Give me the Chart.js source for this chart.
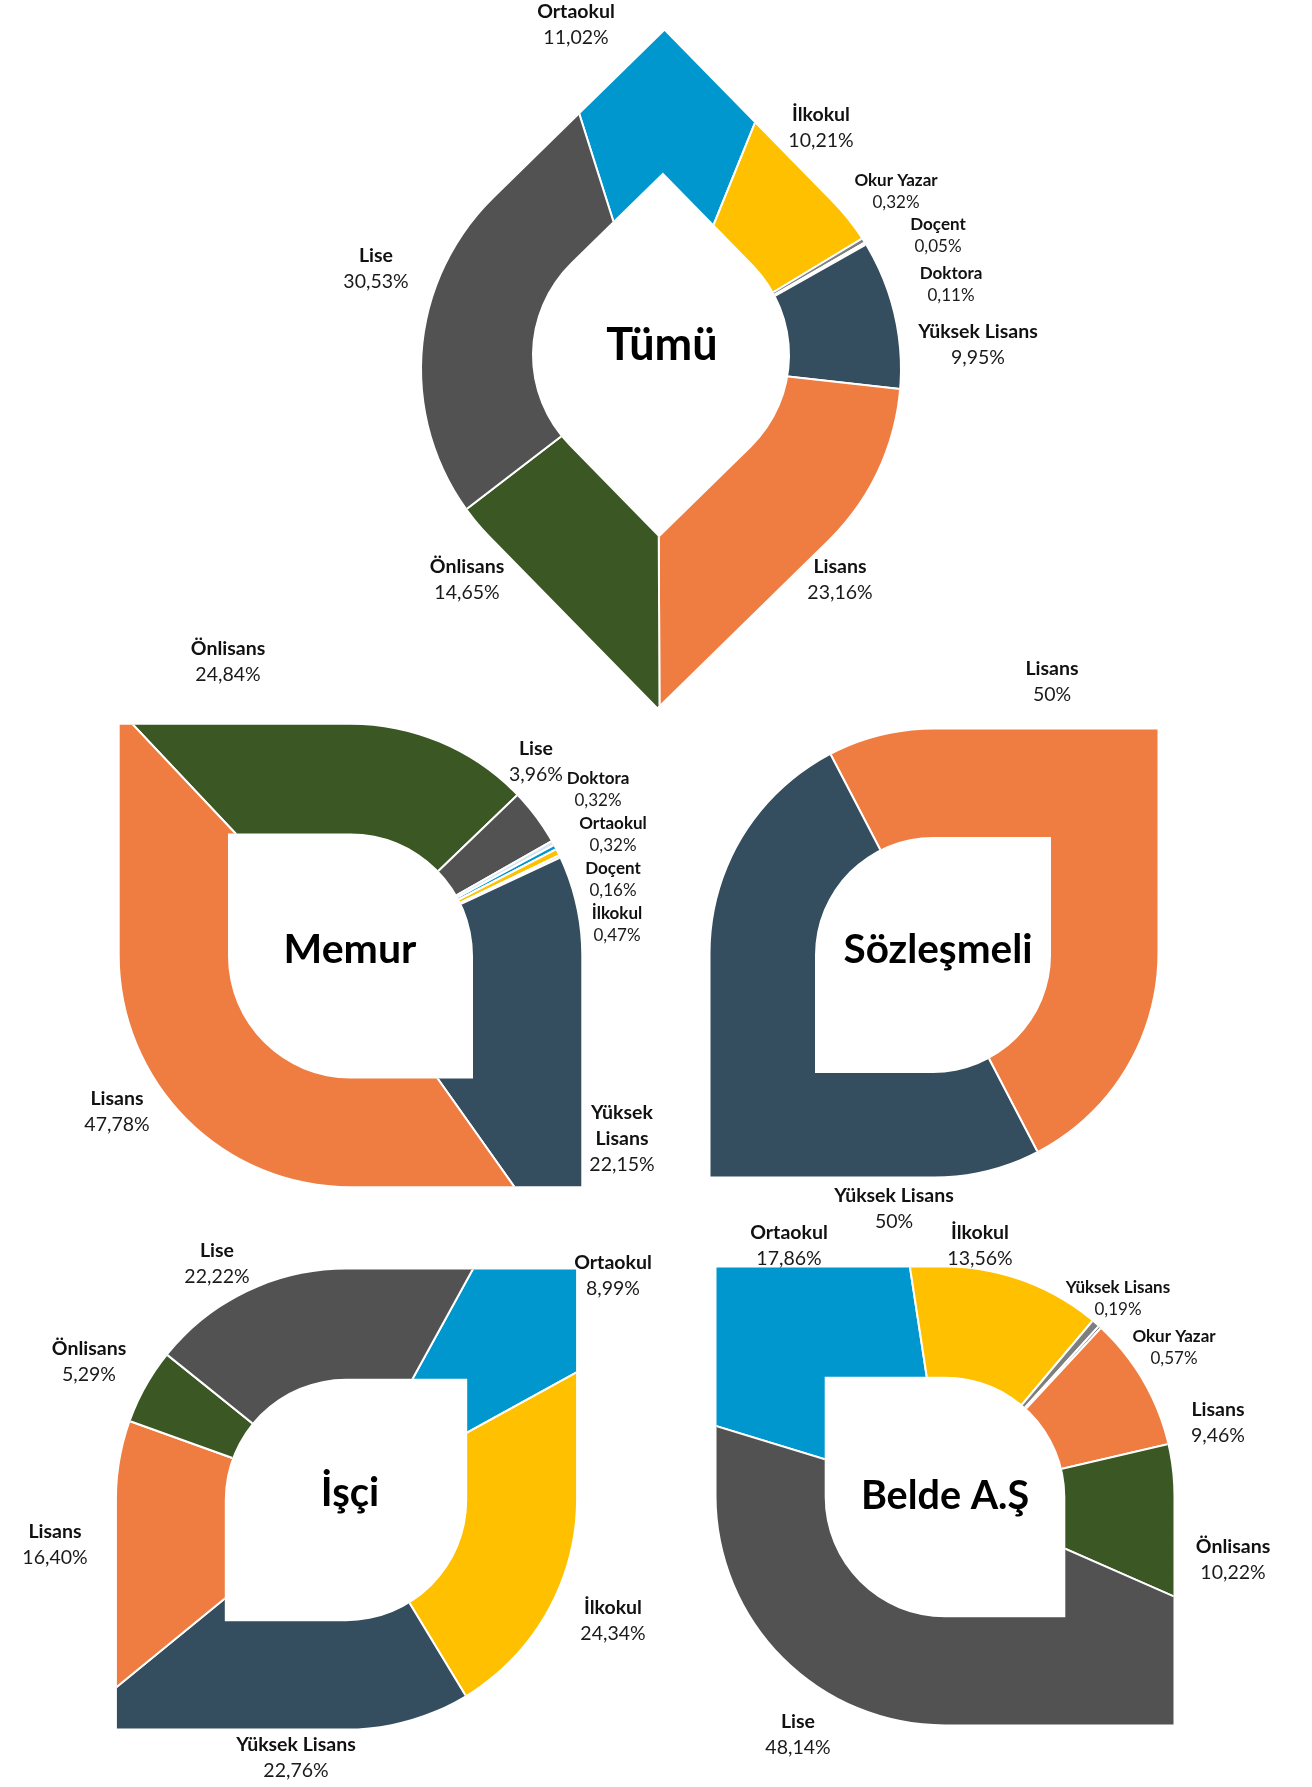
<!DOCTYPE html>
<html lang="tr">
<head>
<meta charset="utf-8">
<title>Eğitim Durumu</title>
<script src="https://cdn.jsdelivr.net/npm/chart.js@4.4.1/dist/chart.umd.min.js"></script>
<style>
    html, body { margin: 0; padding: 0; background: #fff; overflow: hidden; }
    #page { position: relative; width: 1312px; height: 1787px; overflow: hidden; }
    #page canvas { position: absolute; left: 0; top: 0; width: 1312px; height: 2000px; }
</style>
</head>
<body>
<div id="page">
    <canvas id="chart-tumu" width="1312" height="2000"></canvas>
    <canvas id="chart-memur" width="1312" height="2000"></canvas>
    <canvas id="chart-sozlesmeli" width="1312" height="2000"></canvas>
    <canvas id="chart-isci" width="1312" height="2000"></canvas>
    <canvas id="chart-belde" width="1312" height="2000"></canvas>
</div>
<script>
// Data (percent shares per education level)
const tumuCategories = ['Ortaokul', 'İlkokul', 'Okur Yazar', 'Doçent', 'Doktora', 'Yüksek Lisans', 'Lisans', 'Önlisans', 'Lise'];
const tumuValues = [11.02, 10.21, 0.32, 0.05, 0.11, 9.95, 23.16, 14.65, 30.53];

const memurCategories = ['Önlisans', 'Lise', 'Doktora', 'Ortaokul', 'İlkokul', 'Doçent', 'Yüksek Lisans', 'Lisans'];
const memurValues = [24.84, 3.96, 0.32, 0.32, 0.47, 0.16, 22.15, 47.78];

const sozlesmeliCategories = ['Lisans', 'Yüksek Lisans'];
const sozlesmeliValues = [50, 50];

const isciCategories = ['Ortaokul', 'İlkokul', 'Yüksek Lisans', 'Lisans', 'Önlisans', 'Lise'];
const isciValues = [8.99, 24.34, 22.76, 16.40, 5.29, 22.22];

const beldeCategories = ['Ortaokul', 'İlkokul', 'Okur Yazar', 'Yüksek Lisans', 'Lisans', 'Önlisans', 'Lise'];
const beldeValues = [17.86, 13.56, 0.57, 0.19, 9.46, 10.22, 48.14];

// Colours per category
const categoryColors = {
    'Ortaokul': '#0096CE',
    'İlkokul': '#FFC000',
    'Okur Yazar': '#7F7F7F',
    'Doçent': '#F4B183',
    'Doktora': '#D6E6F4',
    'Yüksek Lisans': '#344E5F',
    'Lisans': '#EF7D42',
    'Önlisans': '#3A5724',
    'Lise': '#525252'
};

(function() {
    'use strict';

    const PAGE_W = 1312;
    const PAGE_H = 2000;
    const FONT = 'Lato, "Open Sans", sans-serif';

    /**
     * Format value the Turkish way: 11,02%  /  50%
     */
    function formatPercent(v) {
        if (Math.round(v) === v) return v + '%';
        return v.toFixed(2).replace('.', ',') + '%';
    }

    /**
     * Leaf shape: square with two opposite sharp corners and two quarter-circle corners.
     * type 'A' = sharp top-left / bottom-right, type 'B' = sharp top-right / bottom-left
     */
    function addLeaf(ctx, cx, cy, h, angle, type) {
        ctx.save();
        ctx.translate(cx, cy);
        ctx.rotate(angle * Math.PI / 180);
        if (type === 'A') {
            ctx.moveTo(-h, -h);
            ctx.lineTo(0, -h);
            ctx.arc(0, 0, h, -Math.PI / 2, 0);
            ctx.lineTo(h, h);
            ctx.lineTo(0, h);
            ctx.arc(0, 0, h, Math.PI / 2, Math.PI);
        } else {
            ctx.moveTo(0, -h);
            ctx.lineTo(h, -h);
            ctx.lineTo(h, 0);
            ctx.arc(0, 0, h, 0, Math.PI / 2);
            ctx.lineTo(-h, h);
            ctx.lineTo(-h, 0);
            ctx.arc(0, 0, h, Math.PI, Math.PI * 1.5);
        }
        ctx.closePath();
        ctx.restore();
    }

    const leafPlugin = {
        id: 'leaf',
        beforeDatasetsDraw(chart, args, opts) {
            const ctx = chart.ctx;
            ctx.save();
            ctx.beginPath();
            addLeaf(ctx, opts.cx, opts.cy, opts.outer, opts.angle, opts.type);
            addLeaf(ctx, opts.innerCx, opts.innerCy, opts.inner, opts.angle, opts.type);
            ctx.clip('evenodd');
        },
        afterDatasetsDraw(chart) {
            chart.ctx.restore();
        },
        afterDraw(chart, args, opts) {
            const ctx = chart.ctx;
            const labels = chart.data.labels;
            const values = chart.data.datasets[0].data;
            ctx.save();
            ctx.textAlign = 'center';
            ctx.textBaseline = 'middle';
            ctx.fillStyle = '#000';

            // centre title
            ctx.font = 'bold ' + opts.titleSize + 'px ' + FONT;
            ctx.fillText(opts.title, opts.titleAt[0], opts.titleAt[1]);

            // data labels
            labels.forEach((name, i) => {
                const pos = opts.labelAt[i];
                const small = values[i] < 1;
                const size = small ? 17 : 19.5;
                const lineH = small ? 22 : 26;
                const lines = (opts.wrap || []).includes(name) ? name.split(' ') : [name];
                ctx.fillStyle = '#111';
                ctx.font = 'bold ' + size + 'px ' + FONT;
                lines.forEach((ln, k) => ctx.fillText(ln, pos[0], pos[1] + k * lineH));
                ctx.fillStyle = '#1a1a1a';
                ctx.font = size + 'px ' + FONT;
                ctx.fillText(formatPercent(values[i]), pos[0], pos[1] + lines.length * lineH);
            });
            ctx.restore();
        }
    };

    function makeChart(id, categories, values, shape) {
        const R = shape.outer * 1.5;
        const pcx = shape.pieCx || shape.cx;
        const pcy = shape.pieCy || shape.cy;
        new Chart(document.getElementById(id), {
            type: 'pie',
            data: {
                labels: categories,
                datasets: [{
                    data: values,
                    backgroundColor: categories.map(c => categoryColors[c]),
                    borderColor: '#ffffff',
                    borderWidth: 2
                }]
            },
            options: {
                responsive: false,
                animation: false,
                events: [],
                rotation: shape.rotation,
                layout: {
                    padding: {
                        left: pcx - R,
                        top: pcy - R,
                        right: PAGE_W - pcx - R,
                        bottom: PAGE_H - pcy - R
                    }
                },
                plugins: {
                    legend: { display: false },
                    tooltip: { enabled: false },
                    leaf: shape
                }
            },
            plugins: [leafPlugin]
        });
    }

    function init() {
        makeChart('chart-tumu', tumuCategories, tumuValues, {
            cx: 661, cy: 369, outer: 239, innerCx: 661, innerCy: 355, inner: 129,
            pieCx: 658, pieCy: 362,
            angle: 45.6, type: 'A', rotation: -17.6,
            title: 'Tümü', titleSize: 45, titleAt: [662, 345],
            labelAt: [[576, 12], [821, 115], [896, 181], [938, 225], [951, 274],
                      [978, 332], [840, 567], [467, 567], [376, 256]]
        });
        makeChart('chart-memur', memurCategories, memurValues, {
            cx: 350.5, cy: 955.5, outer: 230.8, innerCx: 350.5, innerCy: 956, inner: 122.5,
            angle: 0, type: 'A', rotation: -43.3,
            title: 'Memur', titleSize: 41, titleAt: [350, 950],
            wrap: ['Yüksek Lisans'],
            labelAt: [[228, 649], [536, 749], [598, 779], [613, 824], [617, 914],
                      [613, 869], [622, 1113], [117, 1099]]
        });
        makeChart('chart-sozlesmeli', sozlesmeliCategories, sozlesmeliValues, {
            cx: 934, cy: 953, outer: 223.5, innerCx: 933, innerCy: 955, inner: 118,
            angle: 0, type: 'B', rotation: -27.5,
            title: 'Sözleşmeli', titleSize: 40.5, titleAt: [938, 950],
            labelAt: [[1052, 669], [894, 1196]]
        });
        makeChart('chart-isci', isciCategories, isciValues, {
            cx: 346.5, cy: 1499, outer: 229.6, innerCx: 346, innerCy: 1500, inner: 121.2,
            angle: 0, type: 'B', rotation: 28.8,
            title: 'İşçi', titleSize: 40, titleAt: [350, 1493],
            labelAt: [[613, 1263], [613, 1608], [296, 1745], [55, 1532], [89, 1349], [217, 1251]]
        });
        makeChart('chart-belde', beldeCategories, beldeValues, {
            cx: 945, cy: 1496, outer: 228.5, innerCx: 945, innerCy: 1497, inner: 120.3,
            angle: 0, type: 'A', rotation: -73,
            title: 'Belde A.Ş', titleSize: 39.5, titleAt: [945, 1496],
            labelAt: [[789, 1233], [980, 1233], [1174, 1337], [1118, 1288],
                      [1218, 1410], [1233, 1547], [798, 1722]]
        });
    }

    if (document.readyState === 'loading') {
        document.addEventListener('DOMContentLoaded', init);
    } else {
        init();
    }
})();
</script>
</body>
</html>
